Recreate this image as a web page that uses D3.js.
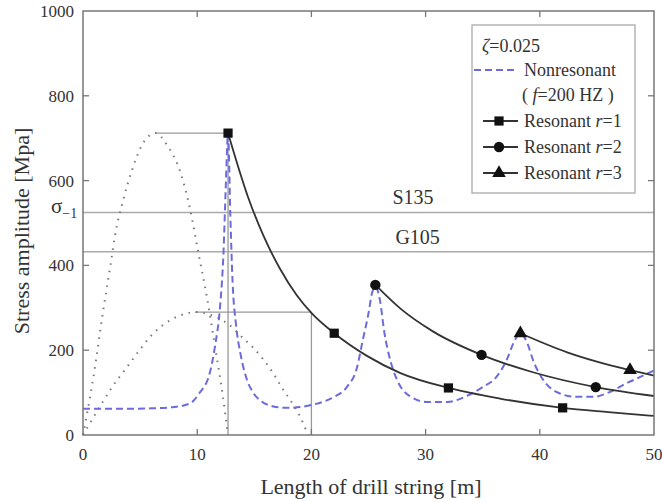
<!DOCTYPE html>
<html>
<head>
<meta charset="utf-8">
<script src="https://cdn.jsdelivr.net/npm/d3@7"></script>
<style>
  html, body { margin: 0; padding: 0; background: #fff; }
  svg text { font-family: "Liberation Serif", "Times New Roman", serif; fill: #333; }
</style>
</head>
<body>
<div id="chart"></div>
<script>
// values: [length m, stress MPa]
var xTicks = [0, 10, 20, 30, 40, 50];
var yTicks = [0, 200, 400, 600, 800, 1000];

var nonresonant = [[0,62],[2,62],[4,62],[6,63],[8,66],[9.4,75],[10.2,99],[11.1,146],[11.55,208],
  [12.0,302],[12.3,429],[12.5,585],[12.7,712],[12.9,520],[13.1,360],[13.4,260],[13.8,190],[14.3,135],
  [14.9,100],[15.6,80],[16.6,68],[17.8,64],[19.0,66],[20.2,72],[21.2,80],[22.0,90],[23.1,113],
  [24.0,160],[24.5,224],[25.0,287],[25.3,334],[25.6,350],[26.0,318],[26.4,240],[26.9,177],[27.5,130],
  [28.6,92],[30.1,78],[31.9,78],[33.6,92],[35.0,113],[36.2,137],[37.1,177],[37.7,217],[38.3,240],
  [38.9,217],[39.4,177],[40.3,130],[41.5,101],[43.2,90],[44.7,90],[46.1,101],[47.6,122],[48.8,137],[50,152]];

var resonant1 = [[12.7,712],[14.4,565],[15.8,470],[17.25,392],[18.7,330],[20.1,285],[22,240],[24.9,186],
  [27.8,146],[32,111],[36.5,86],[42,64],[46,54],[50,45]];
var resonant1Marks = [[12.7,712],[22,240],[32,111],[42,64]];

var resonant2 = [[25.6,354],[27.8,298],[30.6,245],[34.9,189],[39.4,148],[44.9,113],[50,92]];
var resonant2Marks = [[25.6,354],[34.9,189],[44.9,113]];

var resonant3 = [[38.3,240],[42.4,195],[45,173],[47.9,153],[50,140]];
var resonant3Marks = [[38.3,240],[47.9,153]];

var modeShape1 = [[0,0],[0.9,135],[1.75,290],[2.4,400],[2.8,470],[3.5,552],[4.3,625],[5.25,688],[6.35,712],
  [7.4,682],[8.5,622],[9.4,530],[10.1,430],[10.85,325],[11.55,210],[12.2,100],[12.7,0]];
var modeShape2 = [[0,0],[1.5,68],[2.6,115],[3.85,160],[5.0,202],[6.1,238],[7.6,270],[9.1,287],[9.8,290],
  [11.5,280],[12.7,262],[14.0,229],[14.9,206],[15.8,178],[16.6,148],[17.5,108],[18.3,76],[19.0,44],[19.7,0]];

var limitNames = ["S135", "G105"];
var limitValues = [525, 432];
var limitLabelX = [28.9, 29.3];

// guide lines: [x1, y1, x2, y2]
var guides = [[6.35,712,12.7,712],[12.7,0,12.7,712],[9.8,290,20,290],[20,0,20,290]];

var W = 662, H = 502;
var svg = d3.select("#chart").append("svg").attr("width", W).attr("height", H);

var x = d3.scaleLinear().domain([0, 50]).range([83, 654]);
var y = d3.scaleLinear().domain([0, 1000]).range([435, 11]);

var line = d3.line()
    .x(function (d) { return x(d[0]); })
    .y(function (d) { return y(d[1]); })
    .curve(d3.curveMonotoneX);

// limit lines
svg.selectAll(".limit").data(limitValues).enter().append("line")
    .attr("x1", x(0)).attr("x2", x(50))
    .attr("y1", function (d) { return y(d); }).attr("y2", function (d) { return y(d); })
    .style("stroke", "#aaa").style("stroke-width", 1.5);

svg.selectAll(".limitLabel").data(limitNames).enter().append("text")
    .attr("x", function (d, i) { return x(limitLabelX[i]); })
    .attr("y", function (d, i) { return y(limitValues[i]) - 8; })
    .attr("text-anchor", "middle")
    .style("font-size", "20px")
    .text(function (d) { return d; });

// sigma -1 label
var sig = svg.append("text").attr("x", 51).attr("y", y(limitValues[0]) + 1).style("font-size", "21px");
sig.append("tspan").text("σ");
sig.append("tspan").attr("dy", 5).style("font-size", "14px").text("−1");

// guides
svg.selectAll(".guide").data(guides).enter().append("line")
    .attr("x1", function (d) { return x(d[0]); }).attr("y1", function (d) { return y(d[1]); })
    .attr("x2", function (d) { return x(d[2]); }).attr("y2", function (d) { return y(d[3]); })
    .style("stroke", "#999").style("stroke-width", 1.3);

// mode shapes (dotted)
[modeShape1, modeShape2].forEach(function (s) {
    svg.append("path").attr("d", line(s))
        .style("fill", "none").style("stroke", "#777").style("stroke-width", 2)
        .style("stroke-dasharray", "1.5,6");
});

// nonresonant dashed
svg.append("path").attr("d", line(nonresonant))
    .style("fill", "none").style("stroke", "#6b6bdc").style("stroke-width", 2)
    .style("stroke-dasharray", "7,4");

// resonant curves
[resonant1, resonant2, resonant3].forEach(function (s) {
    svg.append("path").attr("d", line(s))
        .style("fill", "none").style("stroke", "#333").style("stroke-width", 1.8);
});

var sq = d3.symbol().type(d3.symbolSquare).size(85);
var ci = d3.symbol().type(d3.symbolCircle).size(85);
var tr = d3.symbol().type(d3.symbolTriangle).size(80);

function marks(data, sym) {
    svg.append("g").selectAll("path").data(data).enter().append("path")
        .attr("transform", function (d) { return "translate(" + x(d[0]) + "," + y(d[1]) + ")"; })
        .attr("d", sym).style("fill", "#111");
}
marks(resonant1Marks, sq);
marks(resonant2Marks, ci);
marks(resonant3Marks, tr);

// frame
svg.append("rect").attr("x", x(0)).attr("y", y(1000))
    .attr("width", x(50) - x(0)).attr("height", y(0) - y(1000))
    .style("fill", "none").style("stroke", "#777").style("stroke-width", 1.5);

// inward ticks on all sides
var tk = 6;
xTicks.slice(1, -1).forEach(function (t) {
    svg.append("line").attr("x1", x(t)).attr("x2", x(t)).attr("y1", y(0)).attr("y2", y(0) - tk).style("stroke", "#777").style("stroke-width", 1.3);
    svg.append("line").attr("x1", x(t)).attr("x2", x(t)).attr("y1", y(1000)).attr("y2", y(1000) + tk).style("stroke", "#777").style("stroke-width", 1.3);
});
yTicks.slice(1, -1).forEach(function (t) {
    svg.append("line").attr("x1", x(0)).attr("x2", x(0) + tk).attr("y1", y(t)).attr("y2", y(t)).style("stroke", "#777").style("stroke-width", 1.3);
    svg.append("line").attr("x1", x(50)).attr("x2", x(50) - tk).attr("y1", y(t)).attr("y2", y(t)).style("stroke", "#777").style("stroke-width", 1.3);
});

// tick labels
svg.selectAll(".xl").data(xTicks).enter().append("text")
    .attr("x", function (d) { return x(d); }).attr("y", 460)
    .attr("text-anchor", "middle").style("font-size", "17px")
    .text(function (d) { return d; });
svg.selectAll(".yl").data(yTicks).enter().append("text")
    .attr("x", 74).attr("y", function (d) { return y(d) + 6; })
    .attr("text-anchor", "end").style("font-size", "17px")
    .text(function (d) { return d; });

// axis titles
svg.append("text").attr("x", 371).attr("y", 494).attr("text-anchor", "middle")
    .style("font-size", "22px").text("Length of drill string [m]");
svg.append("text").attr("transform", "translate(29,231) rotate(-90)").attr("text-anchor", "middle")
    .style("font-size", "22px").text("Stress amplitude [Mpa]");

// legend
var lg = svg.append("g");
lg.append("rect").attr("x", 472).attr("y", 25).attr("width", 163).attr("height", 168)
    .style("fill", "#fff").style("stroke", "#aaa").style("stroke-width", 1.3);

var z = lg.append("text").attr("x", 482).attr("y", 52).style("font-size", "18px");
z.append("tspan").style("font-style", "italic").text("ζ");
z.append("tspan").text("=0.025");

lg.append("line").attr("x1", 474).attr("x2", 518).attr("y1", 70).attr("y2", 70)
    .style("stroke", "#6b6bdc").style("stroke-width", 2).style("stroke-dasharray", "7,4");
lg.append("text").attr("x", 524).attr("y", 76).style("font-size", "18px").text("Nonresonant");
var f = lg.append("text").attr("x", 522).attr("y", 101).style("font-size", "18px");
f.append("tspan").text("( ");
f.append("tspan").style("font-style", "italic").text("f");
f.append("tspan").text("=200 HZ )");

var legendSyms = [sq, ci, tr];
var legendY = [121, 147, 173];
legendSyms.forEach(function (s, i) {
    lg.append("line").attr("x1", 483).attr("x2", 518).attr("y1", legendY[i]).attr("y2", legendY[i])
        .style("stroke", "#333").style("stroke-width", 1.8);
    lg.append("path").attr("transform", "translate(499," + legendY[i] + ")").attr("d", s).style("fill", "#111");
    var t = lg.append("text").attr("x", 524).attr("y", legendY[i] + 6).style("font-size", "18px");
    t.append("tspan").text("Resonant ");
    t.append("tspan").style("font-style", "italic").text("r");
    t.append("tspan").text("=" + (i + 1));
});
</script>
</body>
</html>
